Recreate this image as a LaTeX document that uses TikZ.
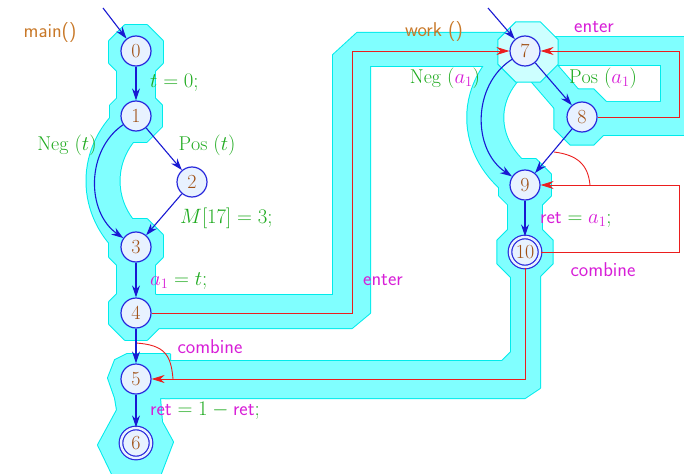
\documentclass[tikz,border=0pt]{standalone}
\usepackage{fontspec}
\usetikzlibrary{arrows.meta}
\definecolor{bandfill}{RGB}{128,255,255}
\definecolor{bandline}{RGB}{0,235,235}
\definecolor{lightband}{RGB}{205,255,255}
\definecolor{nodefill}{RGB}{232,242,255}
\definecolor{nodeline}{RGB}{40,40,220}
\definecolor{edgeblue}{RGB}{25,25,210}
\definecolor{numbrown}{RGB}{160,80,20}
\definecolor{lblgreen}{RGB}{30,170,30}
\definecolor{lblmag}{RGB}{215,30,215}
\definecolor{lblorange}{RGB}{200,120,40}
\definecolor{callred}{RGB}{235,30,30}
\newcommand\oct[3]{\path[pg] (#1,#2) +(22.5:#3) -- +(67.5:#3) -- +(112.5:#3) -- +(157.5:#3) -- +(202.5:#3) -- +(247.5:#3) -- +(292.5:#3) -- +(337.5:#3) -- cycle;}
\newcommand\regionshapes{%
  % main()
  \oct{136}{52}{29}
  \oct{136}{116}{28}
  \oct{136}{246}{29}
  \oct{136}{313}{29}
  \draw[bw=38] (136,52) -- (136,116);
  \draw[bw=33] (136,116) .. controls (92,150) and (92,212) .. (136,246);
  \draw[bw=38] (136,246) -- (136,313);
  \path[pg] (140,295) -- (333,295) -- (333,55) -- (357,33) -- (512,33) -- (512,66) -- (370,66) -- (370,313) -- (352,328) -- (140,328) -- cycle;
  \path[pg] (127,354) -- (170,354) -- (170,398) -- (160,398) -- (162,422) -- (173,442) -- (160,476) -- (113,476) -- (98,445) -- (117,410) -- (115,398) -- (108,378) -- (115,360) -- cycle;
  \path[pg] (511,262) -- (511,352) -- (502,361) -- (165,361) -- (165,398) -- (525,398) -- (540,388) -- (540,262) -- cycle;
  % work()
  \oct{525}{185}{28}
  \oct{525}{252}{30}
  \oct{582}{117}{30}
  \draw[bw=36] (525,51) .. controls (472,85) and (472,150) .. (525,185);
  \draw[bw=34] (525,185) -- (525,252);
  \draw[bw=30] (525,51) -- (582,117);
  \path[pg] (540,37) -- (700,37) -- (700,135) -- (590,135) -- (590,102) -- (661,102) -- (661,65) -- (540,65) -- cycle;
}
\begin{document}
\begin{tikzpicture}[x=1pt,y=-1pt,
  every node/.style={font=\fontsize{20}{24}\selectfont},
  state/.style={circle, draw=nodeline, fill=nodefill, line width=1.2pt, minimum size=30pt, inner sep=0pt, text=numbrown},
  final/.style={state, double=nodefill, double distance=2.4pt},
  edge/.style={draw=edgeblue, line width=1.1pt, -{Stealth[length=12pt,width=8pt]}},
  call/.style={draw=callred, line width=0.9pt, -{Stealth[length=13pt,width=8pt]}},
  hyper/.style={draw=callred, line width=0.9pt},
  lbl/.style={inner sep=0pt},
  sflbl/.style={inner sep=0pt, font=\fontsize{20}{24}\selectfont\sffamily},
]
\useasboundingbox (0,0) rectangle (684,473);
\clip (0,0) rectangle (684,473);
% highlighted regions: border pass then fill pass
\begin{scope}[bw/.style={draw=bandline, line width=#1pt+2pt, line join=bevel},
              pg/.style={draw=bandline, line width=2pt, line join=bevel}]
  \regionshapes
\end{scope}
\begin{scope}[bw/.style={draw=bandfill, line width=#1pt, line join=bevel},
              pg/.style={fill=bandfill}]
  \regionshapes
\end{scope}
\begin{scope}[pg/.style={fill=lightband, draw=bandline, line width=1pt}]
  \oct{528}{52}{32.5}
\end{scope}

% nodes
\node[state] (n0) at (136,51) {0};
\node[state] (n1) at (136,116) {1};
\node[state] (n2) at (192,182) {2};
\node[state] (n3) at (136,247) {3};
\node[state] (n4) at (136,313) {4};
\node[state] (n5) at (136,379) {5};
\node[final] (n6) at (136,443) {6};
\node[state] (n7) at (525,51) {7};
\node[state] (n8) at (582,117) {8};
\node[state] (n9) at (525,185) {9};
\node[final] (n10) at (525,252) {10};

\coordinate (e0) at (103,8);
\coordinate (e7) at (488,8);
\coordinate (h45) at (136,343);
\coordinate (h5) at (173,379);
\coordinate (h89) at (554,152);
\coordinate (h9) at (590,185);

% call / return edges
\draw[call] (n4) -- (352,313) -- (352,51) -- (n7);
\draw[call] (n8) -- (679,117) -- (679,51) -- (n7);
\draw[call] (n10) -- (525,379) -- (n5);
\draw[call] (n10) -- (679,252) -- (679,185) -- (n9);
\draw[hyper] (h45) .. controls (165,345) and (171,355) .. (h5);
\draw[hyper] (h89) .. controls (578,155) and (588,165) .. (h9);

% control flow edges
\draw[edge] (e0) -- (n0);
\draw[edge] (n0) -- (n1);
\draw[edge] (n1) -- (n2);
\draw[edge] (n2) -- (n3);
\draw[edge] (n1) .. controls (86,150) and (86,212) .. (n3);
\draw[edge] (n3) -- (n4);
\draw[edge] (n4) -- (n5);
\draw[edge] (n5) -- (n6);
\draw[edge] (e7) -- (n7);
\draw[edge] (n7) .. controls (472,85) and (472,150) .. (n9);
\draw[edge] (n7) -- (n8);
\draw[edge] (n8) -- (n9);
\draw[edge] (n9) -- (n10);

% labels
\node[sflbl, text=lblorange] (lmain) at (50,33) {main()};
\node[lbl, anchor=west, text=lblgreen] (lt) at (150,83) {$t = 0;$};
\node[lbl, text=lblgreen] (lnegt) at (67,145) {$\mathrm{Neg}\ (t)$};
\node[lbl, text=lblgreen] (lpost) at (207,145) {$\mathrm{Pos}\ (t)$};
\node[lbl, anchor=west, text=lblgreen] (lm) at (180,218) {$M[17] = 3;$};
\node[lbl, anchor=west, text=lblgreen] (la) at (150,281) {$\textcolor{lblmag}{a_1} = t;$};
\node[sflbl, text=lblmag] (lenter1) at (383,280) {enter};
\node[sflbl, text=lblmag] (lcomb1) at (210,347) {combine};
\node[lbl, anchor=west, text=lblgreen] (lret) at (150,411) {$\textcolor{lblmag}{\textsf{ret}} = 1 - \textcolor{lblmag}{\textsf{ret}};$};
\node[sflbl, text=lblorange] (lwork) at (434,32) {work ()};
\node[sflbl, text=lblmag] (lenter2) at (594,27) {enter};
\node[lbl, text=lblgreen] (lnega) at (445,78) {$\mathrm{Neg}\ (\textcolor{lblmag}{a_1})$};
\node[lbl, text=lblgreen] (lposa) at (603,78) {$\mathrm{Pos}\ (\textcolor{lblmag}{a_1})$};
\node[lbl, anchor=west, text=lblgreen] (lreta) at (540,220) {$\textcolor{lblmag}{\textsf{ret}} = \textcolor{lblmag}{a_1};$};
\node[sflbl, text=lblmag] (lcomb2) at (603,270) {combine};
\end{tikzpicture}
\end{document}
